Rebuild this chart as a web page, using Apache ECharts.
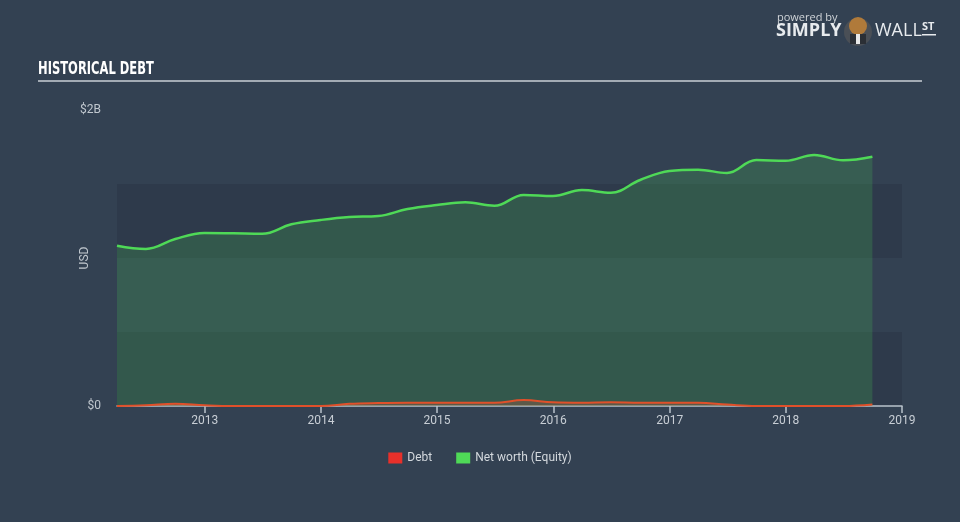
<!DOCTYPE html>
<html>
<head>
<meta charset="utf-8">
<script src="https://cdn.jsdelivr.net/npm/echarts@6/dist/echarts.min.js"></script>
<style>
html,body{margin:0;padding:0;background:#334152;}
#chart{width:960px;height:522px;}
</style>
</head>
<body>
<div id="chart"></div>
<script>
var dates = ['2012-03-31','2012-06-30','2012-09-30','2012-12-31','2013-03-31','2013-06-30','2013-09-30','2013-12-31','2014-03-31','2014-06-30','2014-09-30','2014-12-31','2015-03-31','2015-06-30','2015-09-30','2015-12-31','2016-03-31','2016-06-30','2016-09-30','2016-12-31','2017-03-31','2017-06-30','2017-09-30','2017-12-31','2018-03-31','2018-06-30','2018-09-30'];
var equity = [1.083,1.061,1.128,1.169,1.167,1.164,1.228,1.257,1.277,1.284,1.331,1.358,1.376,1.353,1.426,1.419,1.459,1.441,1.527,1.588,1.597,1.574,1.662,1.657,1.696,1.660,1.684];
var debt = [0,0.005,0.015,0.005,0,0,0,0,0.015,0.02,0.022,0.022,0.022,0.022,0.04,0.025,0.022,0.025,0.022,0.022,0.022,0.01,0,0,0,0,0.01];
var yTickLabels = {0:'$0', 2000000000:'$2B'};
var seriesNames = ['Debt','Net worth (Equity)'];

function pairs(vals){ return dates.map(function(d,i){ return [d, vals[i]*1e9]; }); }

var chart = echarts.init(document.getElementById('chart'), null, {renderer:'canvas'});
var YEAR = 365*24*3600*1000;
chart.setOption({
  backgroundColor:'#334152',
  animation:false,
  textStyle:{fontFamily:'Roboto, "Noto Sans", sans-serif'},
  grid:{left:117, right:58, top:110, bottom:116},
  legend:{
    data:seriesNames, bottom:53, left:'center', itemWidth:14, itemHeight:11, itemGap:24,
    icon:'rect',
    textStyle:{color:'#d3d8dd', fontSize:12},
  },
  xAxis:{
    type:'time', min:'2012-03-31', max:'2019-01-01',
    minInterval:YEAR, maxInterval:YEAR,
    axisLine:{lineStyle:{color:'#b9c2cb', width:1.5}},
    axisTick:{show:true, length:7, lineStyle:{color:'#b9c2cb', width:1.5}},
    axisLabel:{color:'#c8ced5', fontSize:12, margin:9, formatter:'{yyyy}', showMinLabel:false, showMaxLabel:true},
    splitLine:{show:false}
  },
  yAxis:{
    type:'value', min:0, max:2000000000, interval:500000000,
    axisLine:{show:false}, axisTick:{show:false},
    axisLabel:{color:'#c0c7ce', fontSize:12, margin:16, formatter:function(v){ return yTickLabels[v] || ''; }},
    splitLine:{show:false},
    splitArea:{show:true, areaStyle:{color:['#2e3a4b','rgba(0,0,0,0)']}}
  },
  series:[
    {
      name:seriesNames[1], type:'line', smooth:0.4, symbol:'none', z:2,
      data:pairs(equity),
      itemStyle:{color:'#4fd957'},
      lineStyle:{color:'#4fd957', width:2.5},
      areaStyle:{color:'rgba(76,216,84,0.27)', origin:'start'}
    },
    {
      name:seriesNames[0], type:'line', smooth:0.4, symbol:'none', z:3,
      data:pairs(debt),
      itemStyle:{color:'#e8302a'},
      lineStyle:{color:'#e0502a', width:2},
      areaStyle:{color:'rgba(150,90,70,0.6)', origin:'start'}
    }
  ],
  graphic:[
    {type:'text', x:38, y:60, scaleX:0.64, style:{text:'HISTORICAL DEBT', fill:'#ffffff', font:'bold 18px "DejaVu Sans", sans-serif'}},
    {type:'rect', shape:{x:38, y:80, width:884, height:2}, style:{fill:'#a3abb4'}},
    {type:'text', x:85, y:258, rotation:Math.PI/2, style:{text:'USD', fill:'#c0c7ce', font:'12px Roboto, sans-serif', align:'center', verticalAlign:'middle'}},
    {type:'text', left:777, top:12, style:{text:'powered by', fill:'#d0d4d8', font:'11px "Open Sans", sans-serif'}},
    {type:'text', left:776, top:22, style:{text:'SIMPLY', fill:'#e8ebee', font:'bold 18px "Open Sans", sans-serif'}},
    {type:'circle', shape:{cx:858, cy:32, r:14}, style:{fill:'#4a4f56'}},
    {type:'circle', shape:{cx:858, cy:26, r:9}, style:{fill:'#b07a3a'}},
    {type:'rect', shape:{x:850, y:34, width:16, height:10}, style:{fill:'#2b2f35'}},
    {type:'rect', shape:{x:856, y:34, width:4, height:10}, style:{fill:'#e8e8e8'}},
    {type:'text', left:875, top:22, style:{text:'WALL', fill:'#e8ebee', font:'18px "Open Sans", sans-serif'}},
    {type:'text', left:922, top:21, style:{text:'ST', fill:'#e8ebee', font:'bold 11px "Open Sans", sans-serif'}},
    {type:'rect', shape:{x:922, y:34, width:14, height:1.5}, style:{fill:'#e8ebee'}}
  ]
});
</script>
</body>
</html>
